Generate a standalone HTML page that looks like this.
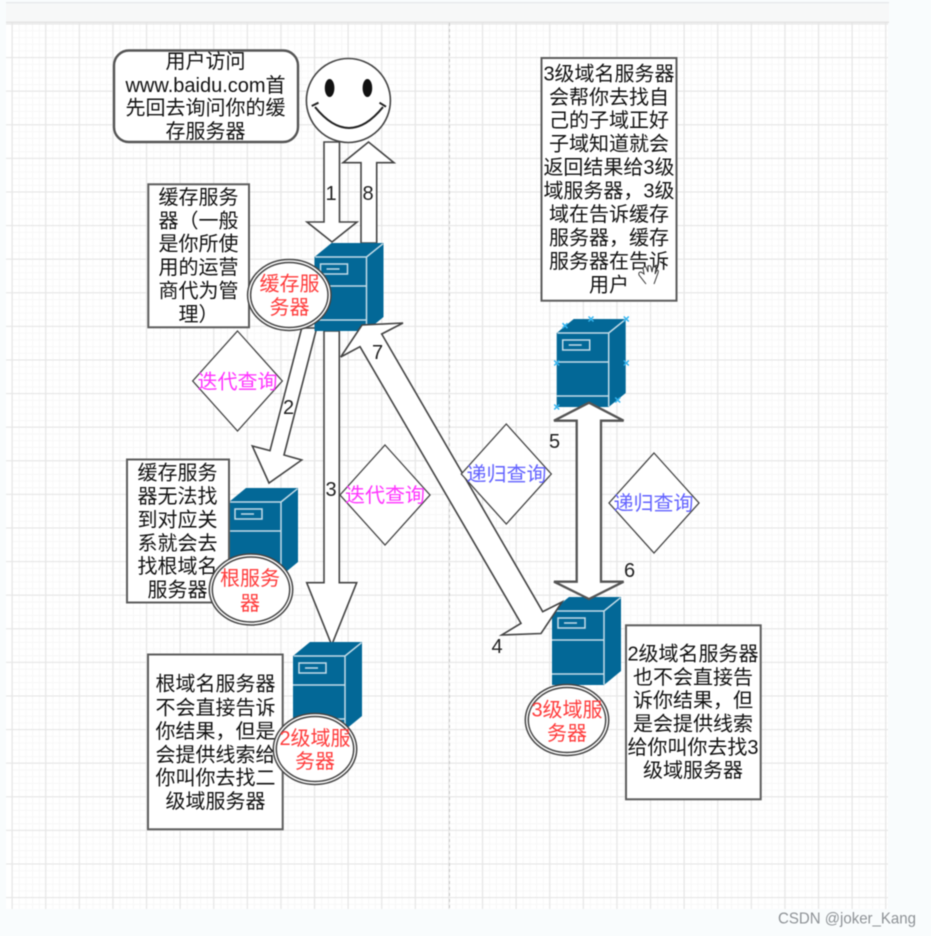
<!DOCTYPE html>
<html lang="zh">
<head>
<meta charset="utf-8">
<title>DNS</title>
<style>
html,body{margin:0;padding:0;background:#f9fcfd;width:931px;height:936px;overflow:hidden}
svg{display:block;filter:blur(.4px)}
.t{font-family:"Liberation Sans","Noto Sans CJK SC",sans-serif;font-size:20px;text-anchor:middle;fill:#111}
.r{fill:#ff3b3b}.m{fill:#ff33ff}.b{fill:#6262ff}
.n{font-family:"Liberation Sans",sans-serif;font-size:20px;text-anchor:middle;fill:#222}
.s{fill:#fff;stroke:#444;stroke-width:1.6;stroke-linejoin:miter}
.s2{stroke-width:2.3;stroke:#555}
.box{fill:#fff;stroke:#5c5c5c;stroke-width:2}
.x{stroke:#35b5f0;stroke-width:1.5;fill:none}
</style>
</head>
<body>
<svg width="931" height="936" viewBox="0 0 931 936" xmlns="http://www.w3.org/2000/svg">
<defs>
<pattern id="gm" width="6.72" height="6.72" patternUnits="userSpaceOnUse" x="12" y="23.6">
<path d="M.5 0V6.72M0 .5H6.72" stroke="#f7f7f7" stroke-width="1" fill="none"/>
</pattern>
<pattern id="gM" width="33.6" height="33.6" patternUnits="userSpaceOnUse" x="11.5" y="23.4">
<path d="M.5 0V33.6M0 .5H33.6" stroke="#e6e6e6" stroke-width="1.3" fill="none"/>
</pattern>
<g id="srv">
<path d="M0 14L17 0H69V74L52 88H0Z" fill="#036897"/>
<path d="M.7 14H52V87.500M52 14L68.500 .7M0 43H52M0 77H52" stroke="#c3dce8" stroke-width="1.500" fill="none"/>
<rect x="6" y="21" width="27" height="10" fill="none" stroke="#c3dce8" stroke-width="1.500"/>
<path d="M12 26H25" stroke="#c3dce8" stroke-width="1.500"/>
</g>
</defs>

<rect width="931" height="936" fill="#f9fcfd"/>
<rect x="6" y="2" width="883" height="1.4" fill="#e6e8ea"/>
<rect x="6" y="3.4" width="883" height="18.6" fill="#f7f8f8"/>
<rect x="6" y="22" width="882" height="887" fill="#fff"/>
<rect x="12" y="22" width="876" height="887" fill="url(#gm)"/>
<rect x="6" y="22" width="882" height="887" fill="url(#gM)"/>
<rect x="6" y="21.6" width="883" height="1.4" fill="#e2e2e2"/>
<path d="M449.5 23V909" stroke="#c8c8c8" stroke-width="1" stroke-dasharray="3 3" fill="none"/>

<!-- arrows beneath servers -->
<polygon class="s" points="301.7,328 270,450.7 252.3,446 269,483 301.7,460 284,455 316.7,328"/>
<polygon class="s" points="324,331 324,582.7 306.7,582.7 331.7,645 356.7,582.7 339.3,582.7 339.3,331"/>
<polygon class="s" points="361,243 361,162.7 343,162.7 368.5,142 394,162.7 376.7,162.7 376.7,243"/>

<!-- servers -->
<use href="#srv" x="314.500" y="243"/>
<use href="#srv" x="229" y="488"/>
<use href="#srv" x="293" y="642"/>
<use href="#srv" x="556.700" y="319"/>
<use href="#srv" x="552" y="597"/>

<!-- selection marks -->
<path class="x" d="M562.500 323.200l5 5m0-5l-5 5M588.500 316.500l5 5m0-5l-5 5M623.800 316.500l5 5m0-5l-5 5M554.200 360.500l5 5m0-5l-5 5M623.800 360.500l5 5m0-5l-5 5M554.200 404.500l5 5m0-5l-5 5M588.500 404.500l5 5m0-5l-5 5M615.200 397.500l5 5m0-5l-5 5"/>

<!-- arrows above servers -->
<polygon class="s" points="360,346.7 521,623.3 501.7,635 541,633.5 562,602 542.7,611.7 381.7,334 403,323 362,325 340.7,357"/>
<polygon class="s" points="324,142 324,222 307,222 332,242 357,222 339.500,222 339.500,142"/>
<polygon class="s s2" points="576.700,420.700 554,420.700 589,402.700 623.600,420.700 601,420.700 601,581.700 623.600,581.700 589,599 554,581.700 576.700,581.700"/>

<!-- smiley -->
<circle cx="348.400" cy="100.500" r="42" fill="#fff" stroke="#444" stroke-width="1.6"/>
<ellipse cx="329.600" cy="88" rx="4.800" ry="9" fill="#111"/>
<ellipse cx="367.400" cy="88" rx="4.800" ry="9" fill="#111"/>
<path d="M315 107Q349 149 383 107M311.700 106L318.500 102.700M379.500 102.700L386 106.700" fill="none" stroke="#222" stroke-width="2"/>

<!-- rounded note -->
<rect x="114" y="50.500" width="184" height="91.500" rx="15" fill="#fff" stroke="#555" stroke-width="2.400"/>
<text class="t" x="205.500" y="68">用户访问</text>
<text class="t" x="205.500" y="92">www.baidu.com首</text>
<text class="t" x="205.500" y="114.500">先回去询问你的缓</text>
<text class="t" x="205.500" y="138">存服务器</text>

<!-- boxes -->
<rect class="box" x="148.300" y="184.300" width="100.700" height="143"/>
<text class="t" x="198.500" y="204">缓存服务</text>
<text class="t" x="198.500" y="227.500">器（一般</text>
<text class="t" x="198.500" y="250.500">是你所使</text>
<text class="t" x="198.500" y="274">用的运营</text>
<text class="t" x="198.500" y="297.500">商代为管</text>
<text class="t" x="198.500" y="321">理）</text>

<rect class="box" x="127" y="459.500" width="102" height="143"/>
<text class="t" x="177.500" y="479.500">缓存服务</text>
<text class="t" x="177.500" y="503">器无法找</text>
<text class="t" x="177.500" y="526.500">到对应关</text>
<text class="t" x="177.500" y="550">系就会去</text>
<text class="t" x="177.500" y="573">找根域名</text>
<text class="t" x="177.500" y="596.500">服务器</text>

<rect class="box" x="148" y="654.500" width="134.700" height="174.800"/>
<text class="t" x="215.500" y="690.500">根域名服务器</text>
<text class="t" x="215.500" y="714.500">不会直接告诉</text>
<text class="t" x="215.500" y="738">你结果，但是</text>
<text class="t" x="215.500" y="761.500">会提供线索给</text>
<text class="t" x="215.500" y="784.500">你叫你去找二</text>
<text class="t" x="215.500" y="808">级域服务器</text>

<rect class="box" x="541.500" y="58" width="135" height="242.700"/>
<text class="t" x="609" y="80.500">3级域名服务器</text>
<text class="t" x="609" y="104">会帮你去找自</text>
<text class="t" x="609" y="127">己的子域正好</text>
<text class="t" x="609" y="150.500">子域知道就会</text>
<text class="t" x="609" y="174">返回结果给3级</text>
<text class="t" x="609" y="197.500">域服务器，3级</text>
<text class="t" x="609" y="221">域在告诉缓存</text>
<text class="t" x="609" y="244.500">服务器，缓存</text>
<text class="t" x="609" y="268">服务器在告诉</text>
<text class="t" x="609" y="291.500">用户</text>

<rect class="box" x="626" y="625.300" width="134.700" height="174"/>
<text class="t" x="693" y="660.500">2级域名服务器</text>
<text class="t" x="693" y="684">也不会直接告</text>
<text class="t" x="693" y="707">诉你结果，但</text>
<text class="t" x="693" y="730.500">是会提供线索</text>
<text class="t" x="693" y="754">给你叫你去找3</text>
<text class="t" x="693" y="777">级域服务器</text>

<!-- diamonds -->
<polygon points="237.500,331 282.300,381 237.500,431 192.700,381" fill="#fff" stroke="#444" stroke-width="1.300"/>
<text class="t m" x="237.500" y="388.500">迭代查询</text>
<polygon points="385,445 430,495 385,545 340,495" fill="#fff" stroke="#444" stroke-width="1.300"/>
<text class="t m" x="385" y="502">迭代查询</text>
<polygon points="506.300,424 551.300,474 506.300,524 461.300,474" fill="#fff" stroke="#444" stroke-width="1.300"/>
<text class="t b" x="506.500" y="481">递归查询</text>
<polygon points="654,453 699,503 654,553 609,503" fill="#fff" stroke="#444" stroke-width="1.300"/>
<text class="t b" x="653.500" y="510">递归查询</text>

<!-- ellipses -->
<g fill="#fff" stroke="#444" stroke-width="1.500">
<ellipse cx="289.300" cy="295" rx="41.700" ry="35.500"/>
<ellipse cx="289.300" cy="295" rx="38.700" ry="32.500"/>
<ellipse cx="251" cy="589.500" rx="41.700" ry="35.500"/>
<ellipse cx="251" cy="589.500" rx="38.700" ry="32.500"/>
<ellipse cx="315" cy="749" rx="41.700" ry="35.500"/>
<ellipse cx="315" cy="749" rx="38.700" ry="32.500"/>
<ellipse cx="567" cy="720" rx="41.700" ry="35.500"/>
<ellipse cx="567" cy="720" rx="38.700" ry="32.500"/>
</g>
<text class="t r" x="289.500" y="290.500">缓存服</text>
<text class="t r" x="289.500" y="314">务器</text>
<text class="t r" x="250" y="585">根服务</text>
<text class="t r" x="250" y="610">器</text>
<text class="t r" x="315" y="745">2级域服</text>
<text class="t r" x="315" y="768">务器</text>
<text class="t r" x="567" y="716.500">3级域服</text>
<text class="t r" x="567" y="740">务器</text>

<!-- numbers -->
<text class="n" x="331" y="200">1</text>
<text class="n" x="368" y="200">8</text>
<text class="n" x="288.500" y="414">2</text>
<text class="n" x="331" y="496">3</text>
<text class="n" x="377.500" y="359">7</text>
<text class="n" x="497" y="653">4</text>
<text class="n" x="554.500" y="448">5</text>
<text class="n" x="629.500" y="577">6</text>

<!-- hand cursor -->
<path d="M646 284L639 275Q638 272 641 272L644 274L643 268Q644 266 646 267L648 272L648 266Q650 265 651 267L652 272L653 267Q655 266 656 268L655 274L657 270Q659 270 658 273L654 284" fill="#fff" stroke="#333" stroke-width="1"/>

<text x="778" y="923.500" font-family="'Liberation Sans',sans-serif" font-size="16" fill="#8e9296" textLength="138" lengthAdjust="spacingAndGlyphs">CSDN @joker_Kang</text>
</svg>
</body>
</html>
